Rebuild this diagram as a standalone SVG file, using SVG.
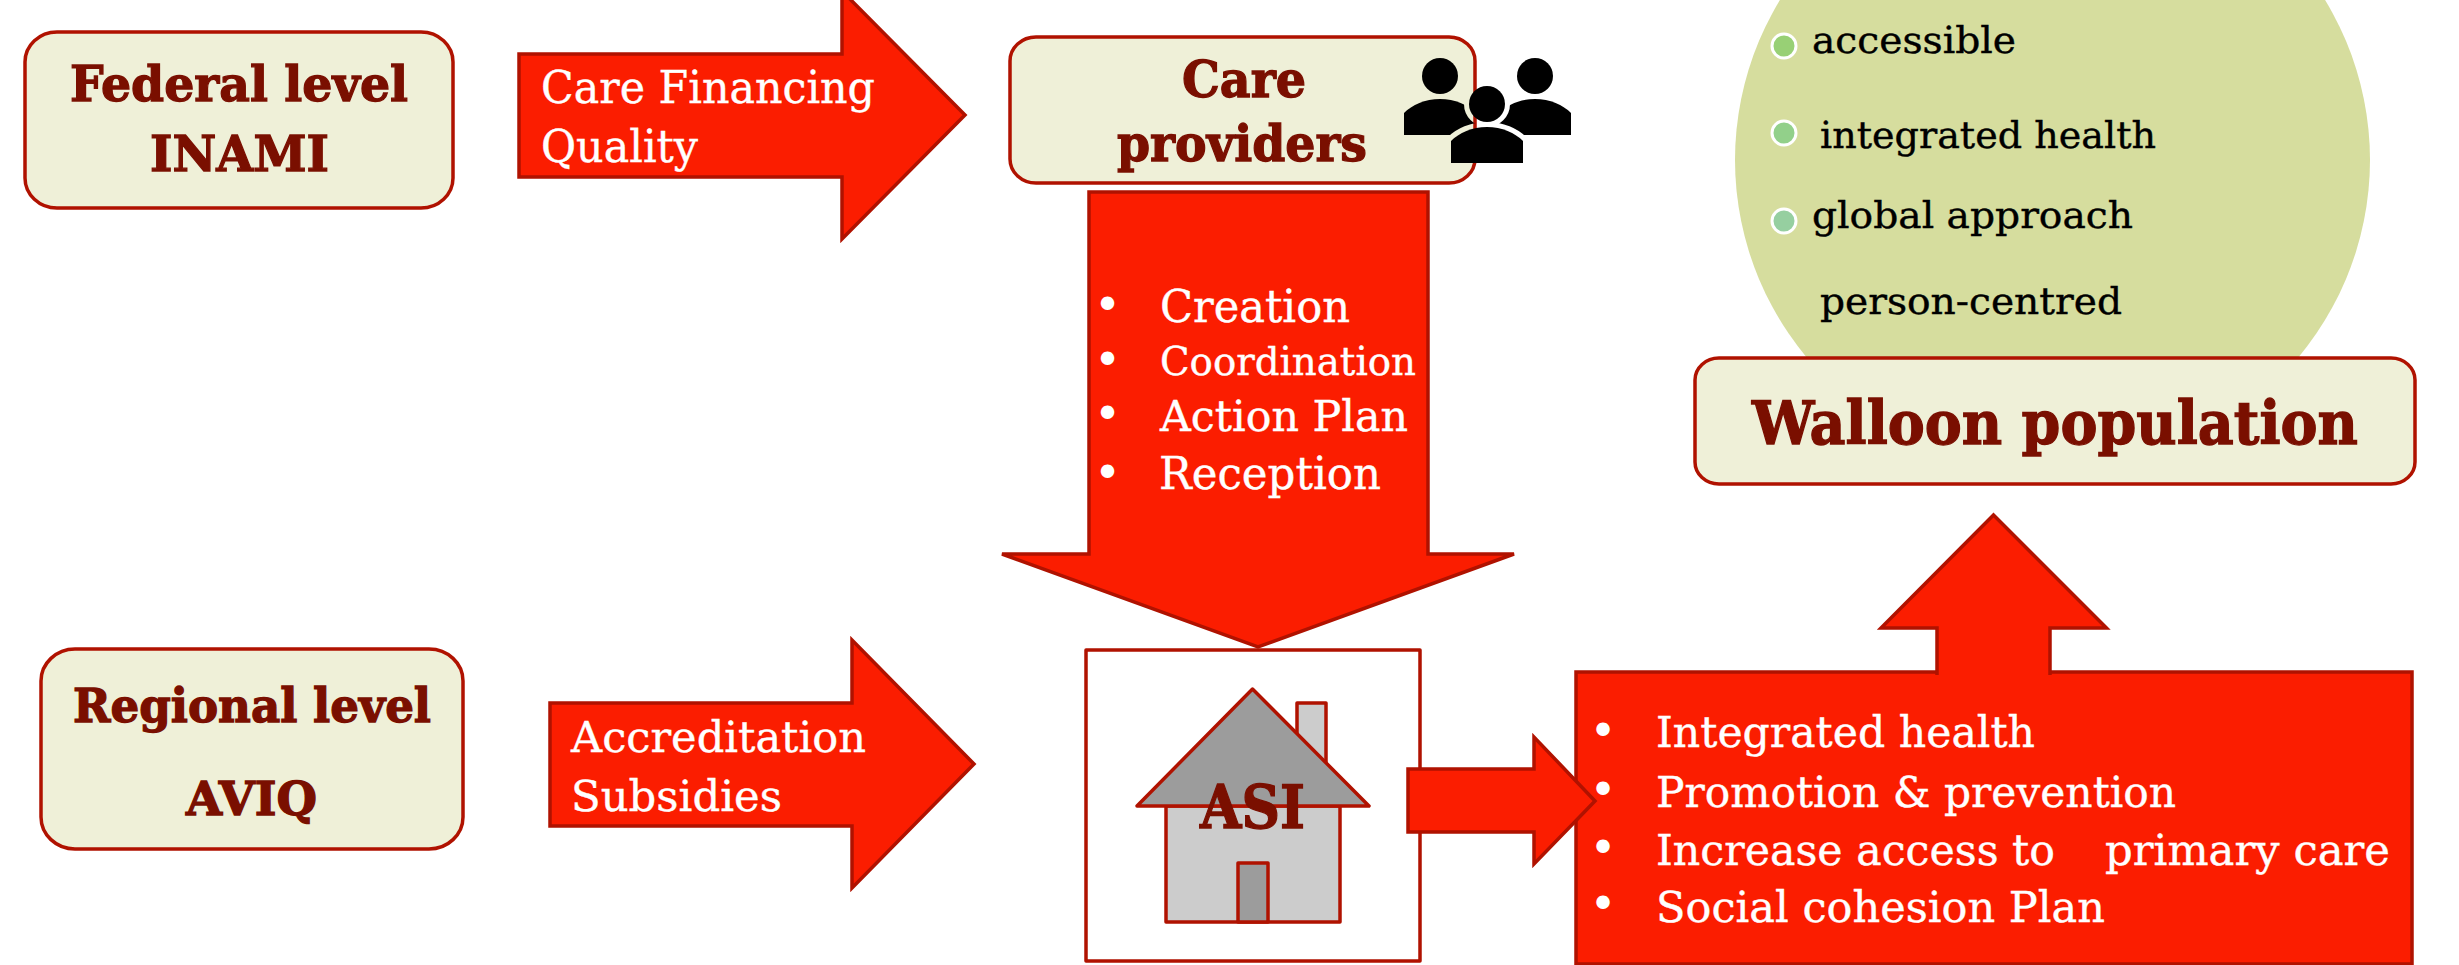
<svg xmlns="http://www.w3.org/2000/svg" width="2459" height="965" viewBox="0 0 2459 965">
<style>
.box{fill:#eff0d8;stroke:#b01200;stroke-width:3.5}
.arrow{fill:#fb1d00;stroke:#b01200;stroke-width:3.5;stroke-linejoin:miter}
.title{font-family:"DejaVu Serif",serif;font-weight:700;fill:#7a0f00;stroke:#7a0f00;stroke-width:1.3}
.label{font-family:"DejaVu Serif",serif;fill:#fff;stroke:#fff;stroke-width:.4}
.dark{font-family:"DejaVu Serif",serif;fill:#000;stroke:#000;stroke-width:.4;font-size:38px}
.bullet{font-family:"DejaVu Sans",sans-serif;fill:#fff;font-size:46px;text-anchor:middle}
.line{fill:#eee;stroke:#b01200;stroke-width:3.5;stroke-linejoin:round}
</style>
<defs>
<path id="body" d="M-36 36V14C-28 6-15 0 0 0C15 0 28 6 36 14V36Z"/>
<mask id="halo" maskUnits="userSpaceOnUse" x="1390" y="50" width="190" height="120">
<rect x="1390" y="50" width="190" height="120" fill="#fff"/>
<ellipse cx="1487" cy="104" rx="18" ry="18" fill="#000" stroke="#000" stroke-width="10"/>
<use href="#body" x="1487" y="127" fill="#000" stroke="#000" stroke-width="10"/>
</mask>
</defs>
<rect width="2459" height="965" fill="#fff"/>

<g id="federal">
<rect class="box" x="25" y="32" width="428" height="176" rx="32" ry="30"/>
<text class="title" x="70" y="101" font-size="49" textLength="338" lengthAdjust="spacingAndGlyphs">Federal level</text>
<text class="title" x="150" y="171" font-size="49" textLength="179" lengthAdjust="spacingAndGlyphs">INAMI</text>
</g>

<g id="care-providers">
<rect class="box" x="1010" y="37" width="465" height="146" rx="26" ry="24"/>
<text class="title" x="1182" y="97" font-size="51" textLength="124" lengthAdjust="spacingAndGlyphs">Care</text>
<text class="title" x="1117" y="161" font-size="51" textLength="250" lengthAdjust="spacingAndGlyphs">providers</text>
<g id="people-icon">
<g mask="url(#halo)">
<ellipse cx="1440" cy="76" rx="18" ry="18"/>
<use href="#body" x="1440" y="99"/>
<ellipse cx="1535" cy="76" rx="18" ry="18"/>
<use href="#body" x="1535" y="99"/>
</g>
<ellipse cx="1487" cy="104" rx="18" ry="18"/>
<use href="#body" x="1487" y="127"/>
</g>
</g>

<g id="population-values">
<ellipse cx="2052.5" cy="160" rx="317.5" ry="312" fill="#d6dd9e"/>
<circle cx="1784" cy="46" r="12" fill="#98d075" stroke="#fff" stroke-width="3"/>
<circle cx="1784" cy="133" r="12" fill="#92d08a" stroke="#fff" stroke-width="3"/>
<circle cx="1784" cy="221" r="12" fill="#96cfa0" stroke="#fff" stroke-width="3"/>
<text class="dark" x="1812" y="53" textLength="204" lengthAdjust="spacingAndGlyphs">accessible</text>
<text class="dark" x="1820" y="148" textLength="336" lengthAdjust="spacingAndGlyphs">integrated health</text>
<text class="dark" x="1812" y="228" textLength="321" lengthAdjust="spacingAndGlyphs">global approach</text>
<text class="dark" x="1820" y="314" textLength="302" lengthAdjust="spacingAndGlyphs">person-centred</text>
</g>

<g id="walloon-population">
<rect class="box" x="1695" y="358" width="720" height="126" rx="24" ry="22"/>
<text class="title" x="1752" y="444" font-size="59" textLength="606" lengthAdjust="spacingAndGlyphs">Walloon population</text>
</g>

<g id="regional">
<rect class="box" x="41" y="649" width="422" height="200" rx="34" ry="32"/>
<text class="title" x="73" y="722" font-size="46" textLength="358" lengthAdjust="spacingAndGlyphs">Regional level</text>
<text class="title" x="186" y="815" font-size="46" textLength="131" lengthAdjust="spacingAndGlyphs">AVIQ</text>
</g>

<g id="asi">
<rect x="1086" y="650" width="334" height="311" fill="#fff" stroke="#b01200" stroke-width="3.5" stroke-linejoin="round"/>
<rect class="line" x="1297" y="703" width="29" height="70" style="fill:#ccc"/>
<rect class="line" x="1166" y="806" width="174" height="116" style="fill:#ccc"/>
<rect class="line" x="1238" y="863" width="30" height="59" style="fill:#9c9c9c"/>
<polygon class="line" points="1252.5,689 1369,806 1137,806" style="fill:#9c9c9c"/>
<text class="title" x="1200" y="828" font-size="59" textLength="105" lengthAdjust="spacingAndGlyphs">ASI</text>
</g>

<g id="outcomes">
<rect class="arrow" x="1576" y="672" width="836" height="292"/>
<text class="bullet" x="1603" y="747">•</text>
<text class="bullet" x="1603" y="806">•</text>
<text class="bullet" x="1603" y="864">•</text>
<text class="bullet" x="1603" y="920">•</text>
<text class="label" x="1656" y="747" font-size="43" textLength="379" lengthAdjust="spacingAndGlyphs">Integrated health</text>
<text class="label" x="1656" y="807" font-size="43" textLength="520" lengthAdjust="spacingAndGlyphs">Promotion &amp; prevention</text>
<text class="label" x="1656" y="865" font-size="43" textLength="399" lengthAdjust="spacingAndGlyphs">Increase access to</text>
<text class="label" x="2105" y="865" font-size="43" textLength="285" lengthAdjust="spacingAndGlyphs">primary care</text>
<text class="label" x="1656" y="922" font-size="43" textLength="449" lengthAdjust="spacingAndGlyphs">Social cohesion Plan</text>
</g>

<g id="connectors">
<g id="arrow-federal">
<polygon class="arrow" points="519,54 842,54 842,-9 965,115 842,239 842,177 519,177"/>
<text class="label" x="541" y="103" font-size="45" textLength="334" lengthAdjust="spacingAndGlyphs">Care Financing</text>
<text class="label" x="541" y="162" font-size="45" textLength="157" lengthAdjust="spacingAndGlyphs">Quality</text>
</g>
<g id="arrow-regional">
<polygon class="arrow" points="550,703 852,703 852,640 974,764 852,888 852,826 550,826"/>
<text class="label" x="571" y="752" font-size="43" textLength="295" lengthAdjust="spacingAndGlyphs">Accreditation</text>
<text class="label" x="571" y="811" font-size="43" textLength="211" lengthAdjust="spacingAndGlyphs">Subsidies</text>
</g>
<g id="arrow-care">
<polygon class="arrow" points="1089,192 1428,192 1428,554 1514,554 1258,647 1002,554 1089,554"/>
<text class="bullet" x="1107.500" y="321">•</text>
<text class="bullet" x="1107.500" y="376">•</text>
<text class="bullet" x="1107.500" y="430">•</text>
<text class="bullet" x="1107.500" y="489">•</text>
<text class="label" x="1160" y="322" font-size="45" textLength="190" lengthAdjust="spacingAndGlyphs">Creation</text>
<text class="label" x="1160" y="375" font-size="40" textLength="256" lengthAdjust="spacingAndGlyphs">Coordination</text>
<text class="label" x="1160" y="431" font-size="42" textLength="248" lengthAdjust="spacingAndGlyphs">Action Plan</text>
<text class="label" x="1159" y="489" font-size="44" textLength="222" lengthAdjust="spacingAndGlyphs">Reception</text>
</g>
<polygon id="arrow-asi" class="arrow" points="1408,769 1534,769 1534,737 1595,801 1534,864 1534,832 1408,832"/>
<path id="arrow-population" class="arrow" d="M1937 675V628H1881L1993.500 515L2106.500 628H2050V675"/>
</g>
</svg>
